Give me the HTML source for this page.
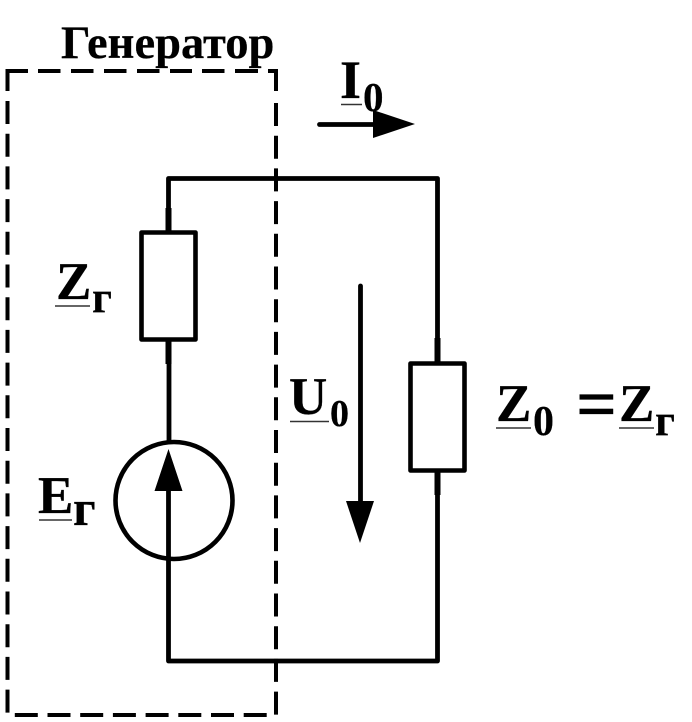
<!DOCTYPE html>
<html><head><meta charset="utf-8"><style>html,body{margin:0;padding:0;background:#fff}svg{display:block}text{font-family:"Liberation Serif","Noto Serif CJK SC",serif;font-weight:bold;fill:#000;stroke:#000;stroke-width:.25px}</style></head><body>
<svg width="692" height="722" viewBox="0 0 692 722" xmlns="http://www.w3.org/2000/svg">
<rect width="692" height="722" fill="#fff"/>
<g fill="none" stroke="#000" stroke-width="4.800">
<path d="M7.5 91V71H28M38 71H60.5M71 71H93.5M104 71H126.500M137 71H159.500M170 71H192M202 71H224.500M235 71H258M268 71H276V91" stroke-width="4"/>
<path d="M7.500 101V715H276V101" stroke-width="4" stroke-dasharray="23 9.700"/>
<path d="M168.500 208V178.500H437.500V363M437.500 470V661H168.500V491M169 364V441" stroke-linejoin="round"/>
<path d="M168.500 208V232M168.500 340V364M437.500 338V363M437.500 471V495" stroke-width="6"/>
<rect x="141.500" y="232.500" width="54" height="107" stroke-width="4.600" stroke-linejoin="round"/>
<rect x="410.500" y="363.500" width="54" height="107" stroke-width="4.600" stroke-linejoin="round"/>
<circle cx="174" cy="500.500" r="58.500" stroke-width="4.600"/>
<path d="M319.500 124.500H376M360.500 286V505" stroke-width="4.800" stroke-linecap="round"/>
</g>
<path d="M168.500 449L182.500 491H154.500ZM373 110L415 124L373 138ZM346 501H374L360 543Z" fill="#000"/>
<g stroke="#333" stroke-width="1.500" fill="none">
<path d="M341 104.500H362M55 306H90M39 520H72M290 421.500H329M496 428H531M619 428H654"/>
</g>
<text x="61" y="58" font-size="46.500">Генератор</text>
<text x="340" y="98" font-size="54">I</text>
<text x="363" y="111" font-size="41">0</text>
<text x="56" y="299" font-size="53">Z</text>
<text x="92" y="312" font-size="44">г</text>
<text x="38" y="513" font-size="53">E</text>
<text x="73" y="525" font-size="50">г</text>
<text x="289" y="414" font-size="53">U</text>
<text x="330" y="426" font-size="38">0</text>
<text x="496" y="421" font-size="53">Z</text>
<text x="533" y="435" font-size="42">0</text>
<text x="576" y="428" font-size="72">=</text>
<text x="619" y="421" font-size="53">Z</text>
<text x="655" y="435" font-size="44">г</text>
</svg>
</body></html>
